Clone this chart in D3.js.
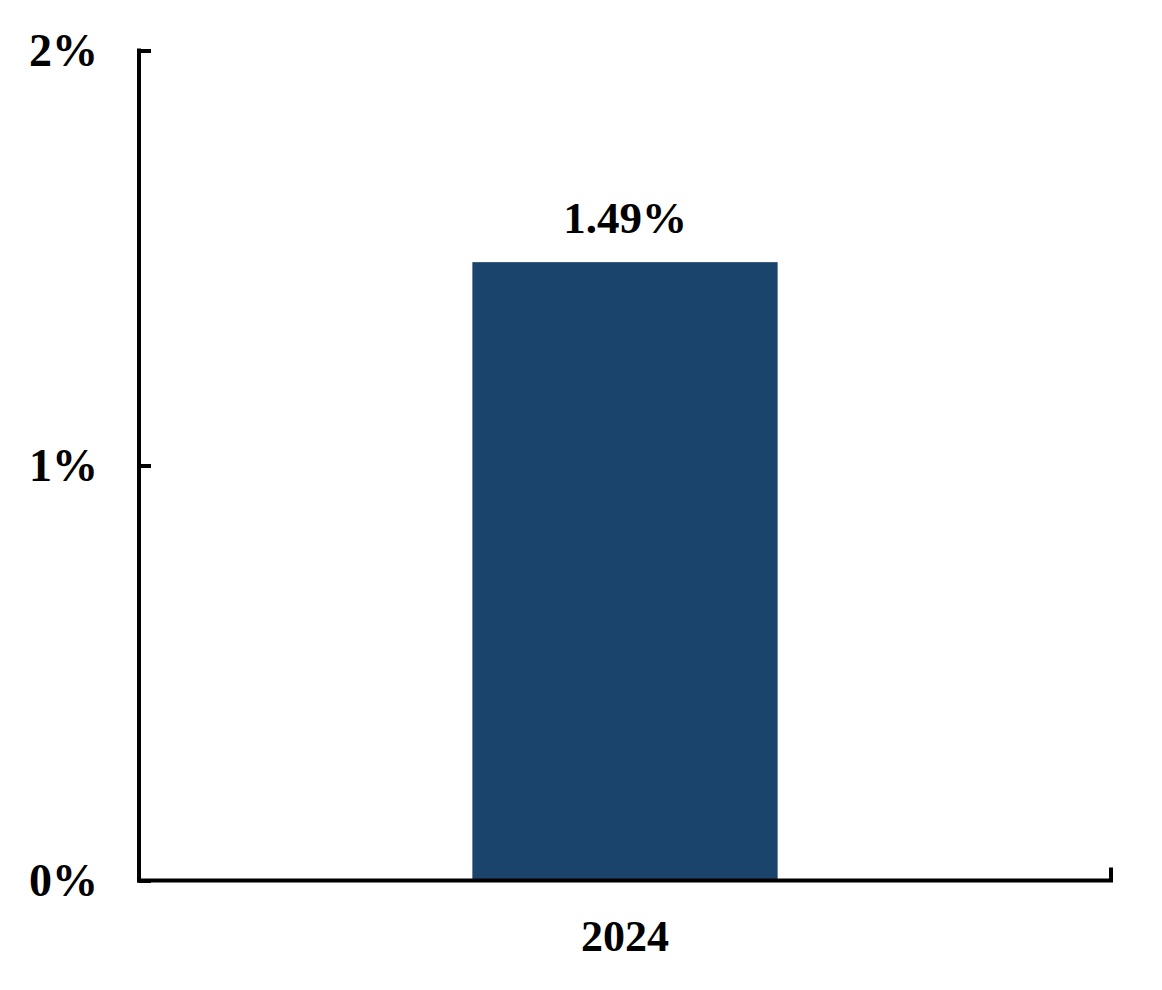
<!DOCTYPE html>
<html>
<head>
<meta charset="utf-8">
<script src="https://cdn.jsdelivr.net/npm/d3@7"></script>
<style>
  body { margin: 0; background: #fff; }
  svg { display: block; }
</style>
</head>
<body>
<div id="chart"></div>
<script>
// chart data
const years = ["2024"];
const rates = [1.49];
const yTicks = [0, 1, 2];

const width = 1162, height = 990;
const margin = {top: 50.5, left: 139, right: 51, bottom: 109.5};

const svg = d3.select("#chart").append("svg")
    .attr("width", width)
    .attr("height", height);

const x = d3.scaleBand()
    .domain(years)
    .range([margin.left, width - margin.right])
    .padding(0.522);

const y = d3.scaleLinear()
    .domain([0, 2])
    .range([height - margin.bottom, margin.top]);

const font = "'Liberation Serif', 'Times New Roman', serif";

// bars
svg.append("g")
  .selectAll("rect")
  .data(rates)
  .join("rect")
    .attr("x", (d, i) => x(years[i]))
    .attr("y", d => y(d))
    .attr("width", x.bandwidth())
    .attr("height", d => y(0) - y(d))
    .attr("fill", "#1a446b");

// value labels
svg.append("g")
  .selectAll("text")
  .data(rates)
  .join("text")
    .attr("x", (d, i) => x(years[i]) + x.bandwidth() / 2)
    .attr("y", d => y(d) - 29)
    .attr("text-anchor", "middle")
    .attr("font-family", font)
    .attr("font-weight", "bold")
    .attr("font-size", 45)
    .text(d => d.toFixed(2) + "%");

// y axis
const yAxis = svg.append("g")
    .attr("transform", `translate(${margin.left},0)`)
    .call(d3.axisRight(y).tickValues(yTicks).tickSize(12).tickFormat(""));
yAxis.select(".domain").remove();
yAxis.selectAll("line").attr("stroke", "#000").attr("stroke-width", 4);
svg.append("line")
    .attr("x1", margin.left).attr("x2", margin.left)
    .attr("y1", y(2) - 2).attr("y2", y(0) + 2)
    .attr("stroke", "#000").attr("stroke-width", 4);

svg.append("g")
  .selectAll("text")
  .data(yTicks)
  .join("text")
    .attr("x", margin.left - 41)
    .attr("y", d => y(d))
    .attr("dy", "0.33em")
    .attr("text-anchor", "end")
    .attr("font-family", font)
    .attr("font-weight", "bold")
    .attr("font-size", 46)
    .text(d => d + "%");

// x axis
svg.append("line")
    .attr("x1", margin.left - 2).attr("x2", width - margin.right + 2)
    .attr("y1", y(0)).attr("y2", y(0))
    .attr("stroke", "#000").attr("stroke-width", 4);
svg.append("line")
    .attr("x1", width - margin.right).attr("x2", width - margin.right)
    .attr("y1", y(0)).attr("y2", y(0) - 13)
    .attr("stroke", "#000").attr("stroke-width", 4);

svg.append("g")
  .selectAll("text")
  .data(years)
  .join("text")
    .attr("x", d => x(d) + x.bandwidth() / 2)
    .attr("y", y(0) + 70)
    .attr("text-anchor", "middle")
    .attr("font-family", font)
    .attr("font-weight", "bold")
    .attr("font-size", 44)
    .text(d => d);
</script>
</body>
</html>
